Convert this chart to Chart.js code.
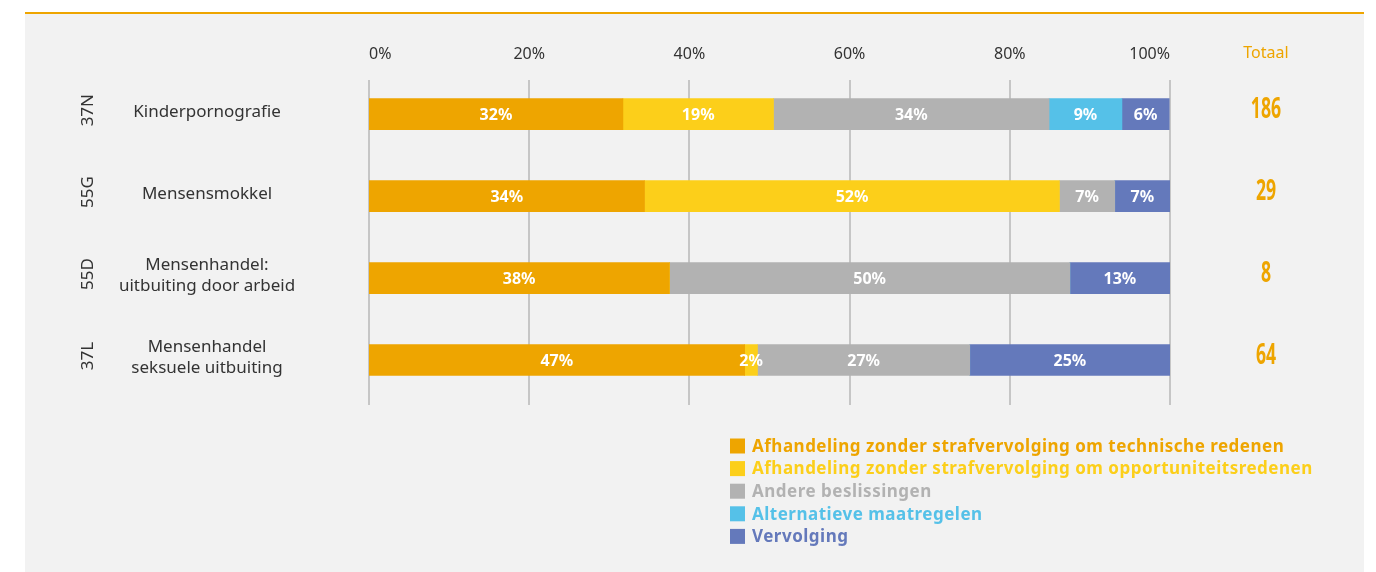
<!DOCTYPE html>
<html>
<head>
<meta charset="utf-8">
<script src="https://cdn.jsdelivr.net/npm/chart.js@4"></script>
<style>
html,body{margin:0;padding:0;background:#fff;}
#wrap{position:relative;width:1376px;height:572px;}
canvas{display:block;}
</style>
</head>
<body>
<div id="wrap"><canvas id="c" width="1376" height="572"></canvas></div>
<script>
const categories = ['Kinderpornografie', 'Mensensmokkel', ['Mensenhandel:', 'uitbuiting door arbeid'], ['Mensenhandel', 'seksuele uitbuiting']];
const codes = ['37N', '55G', '55D', '37L'];
const totals = [186, 29, 8, 64];
const totalTitle = 'Totaal';
const seriesNames = [
  'Afhandeling zonder strafvervolging om technische redenen',
  'Afhandeling zonder strafvervolging om opportuniteitsredenen',
  'Andere beslissingen',
  'Alternatieve maatregelen',
  'Vervolging'
];
const seriesColors = ['#EEA500', '#FCCF1A', '#B2B2B2', '#55C1E8', '#6479BB'];
const technisch     = [31.7, 34.4, 37.5, 46.9];
const opportuniteit = [18.8, 51.8, 0, 1.6];
const andere        = [34.4, 6.9, 50, 26.5];
const alternatief   = [9.1, 0, 0, 0];
const vervolging    = [5.9, 6.9, 12.5, 25];
const xTicks = [0, 20, 40, 60, 80, 100];

const FONT = "'Noto Sans', sans-serif";
const seriesData = [technisch, opportuniteit, andere, alternatief, vervolging];

const decor = {
  id: 'decor',
  beforeDraw(chart) {
    const ctx = chart.ctx;
    ctx.save();
    ctx.fillStyle = '#ffffff';
    ctx.fillRect(0, 0, chart.width, chart.height);
    ctx.fillStyle = '#F2F2F2';
    ctx.fillRect(25, 14, 1339, 558);
    ctx.fillStyle = '#EEA500';
    ctx.fillRect(25, 12, 1339, 2);
    const xs = chart.scales.x;
    ctx.strokeStyle = '#C6C6C6';
    ctx.lineWidth = 2;
    xTicks.forEach(v => {
      const x = Math.round(xs.getPixelForValue(v));
      ctx.beginPath();
      ctx.moveTo(x, 80);
      ctx.lineTo(x, 405);
      ctx.stroke();
    });
    ctx.restore();
  },
  afterDatasetsDraw(chart) {
    const ctx = chart.ctx;
    const ys = chart.scales.y;
    ctx.save();
    ctx.fillStyle = '#ffffff';
    ctx.font = "bold 16px " + FONT;
    ctx.textAlign = 'center';
    ctx.textBaseline = 'middle';
    chart.data.datasets.forEach((ds, di) => {
      const meta = chart.getDatasetMeta(di);
      meta.data.forEach((bar, i) => {
        const v = ds.data[i];
        if (!v) return;
        const cx = (bar.x + bar.base) / 2;
        ctx.fillText(Math.round(v) + '%', cx, bar.y + 1);
      });
    });
    categories.forEach((c, i) => {
      const y = ys.getPixelForValue(i);
      const lines = Array.isArray(c) ? c : [c];
      ctx.fillStyle = '#333333';
      ctx.font = "17px " + FONT;
      ctx.textAlign = 'center';
      const lh = 21;
      lines.forEach((ln, k) => {
        ctx.fillText(ln, 207, y - 2 + (k - (lines.length - 1) / 2) * lh);
      });
      ctx.save();
      ctx.translate(88, y - 4);
      ctx.rotate(-Math.PI / 2);
      ctx.font = "17px " + FONT;
      ctx.fillText(codes[i], 0, 0);
      ctx.restore();
      ctx.save();
      ctx.translate(1266, y - 4);
      ctx.scale(0.63, 1);
      ctx.fillStyle = '#EEA500';
      ctx.font = "bold 28px " + FONT;
      ctx.fillText(String(totals[i]), 0, 0);
      ctx.restore();
    });
    ctx.fillStyle = '#EEA500';
    ctx.font = "16px " + FONT;
    ctx.textAlign = 'center';
    ctx.fillText(totalTitle, 1266, 53);
    ctx.textAlign = 'left';
    ctx.font = "bold 17px " + FONT;
    ctx.letterSpacing = '0.5px';
    seriesNames.forEach((n, i) => {
      const y = 446 + i * 22.6;
      ctx.fillStyle = seriesColors[i];
      ctx.fillRect(730, y - 7.5, 15, 15);
      ctx.fillText(n, 752, y + 1);
    });
    ctx.letterSpacing = '0px';
    ctx.restore();
  }
};

new Chart(document.getElementById('c'), {
  type: 'bar',
  data: {
    labels: categories,
    datasets: seriesNames.map((n, i) => ({
      label: n,
      data: seriesData[i],
      backgroundColor: seriesColors[i],
      borderWidth: 0,
      barThickness: 31
    }))
  },
  options: {
    indexAxis: 'y',
    responsive: false,
    animation: false,
    layout: { padding: { left: 369, right: 206, top: 43, bottom: 171 } },
    plugins: { legend: { display: false }, tooltip: { enabled: false } },
    scales: {
      x: {
        type: 'linear',
        position: 'top',
        stacked: true,
        min: 0, max: 100,
        afterBuildTicks: (s) => { s.ticks = xTicks.map(v => ({ value: v })); },
        ticks: { callback: v => v + '%', color: '#333333', font: { family: FONT, size: 16 }, padding: 1.5, align: 'inner' },
        grid: { display: false },
        border: { display: false }
      },
      y: {
        stacked: true,
        display: false
      }
    }
  },
  plugins: [decor]
});
</script>
</body>
</html>
